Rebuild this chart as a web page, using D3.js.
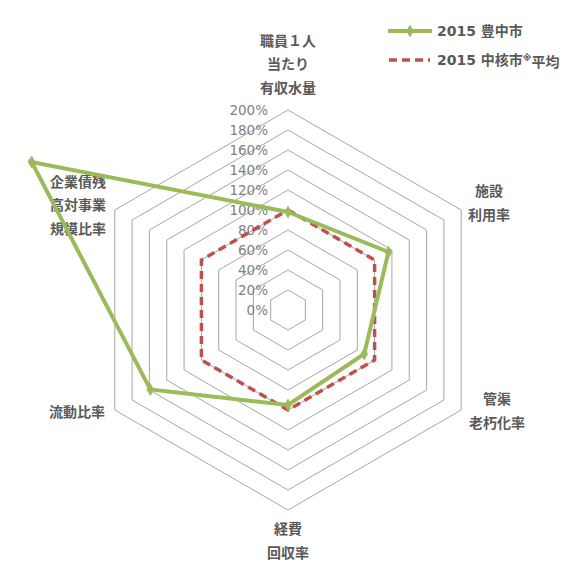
<!DOCTYPE html>
<html>
<head>
<meta charset="utf-8">
<script src="https://cdn.jsdelivr.net/npm/d3@7"></script>
<style>
  html, body { margin: 0; padding: 0; background: #fff; }
  svg { display: block; }
  .tick { font-family: "DejaVu Sans", sans-serif; font-size: 13.5px; fill: #7f7f7f; }
  .axlab { font-family: "Noto Sans CJK JP", sans-serif; font-weight: bold; font-size: 14px; fill: #595959; }
  .leg { font-family: "DejaVu Sans", "Noto Sans CJK JP", sans-serif; font-weight: bold; font-size: 14px; fill: #595959; }
</style>
</head>
<body>
<svg id="chart" width="575" height="584"></svg>
<script>
// Indicator names (each entry is one label, split into lines)
const categories = [
  ["職員１人", "当たり", "有収水量"],
  ["施設", "利用率"],
  ["管渠", "老朽化率"],
  ["経費", "回収率"],
  ["流動比率"],
  ["企業債残", "高対事業", "規模比率"]
];
// Values in percent, clockwise from the top axis
const toyonaka2015 = [98, 116, 88, 95, 159, 296];
const coreCityAvg2015 = [100, 100, 100, 100, 100, 100];
const tickValues = [0, 20, 40, 60, 80, 100, 120, 140, 160, 180, 200];
const seriesNames = ["2015 豊中市", "2015 中核市", "※", "平均"];

const svg = d3.select("#chart");
const cx = 288, cy = 310;
const r = d3.scaleLinear().domain([0, 200]).range([0, 200]);
const angle = i => i * Math.PI * 2 / categories.length;
const pt = (v, i) => [cx + r(v) * Math.sin(angle(i)), cy - r(v) * Math.cos(angle(i))];

// Hexagonal grid rings
const ringLine = d3.line();
svg.append("g").selectAll("path")
  .data(tickValues)
  .join("path")
  .attr("d", t => ringLine(categories.map((c, i) => pt(t, i))) + "Z")
  .attr("fill", "none")
  .attr("stroke", "#a6a6a6")
  .attr("stroke-width", 1);

// Radial tick labels along the top axis
svg.append("g").selectAll("text")
  .data(tickValues)
  .join("text")
  .attr("class", "tick")
  .attr("x", cx - 20)
  .attr("y", t => cy - r(t))
  .attr("dy", "0.36em")
  .attr("text-anchor", "end")
  .text(t => t + "%");

// Axis labels
const labelPos = [
  [0, -246], [201, -107], [209, 101], [0, 231], [-211, 102], [-210, -105]
];
const lh = 23.5;
categories.forEach((lines, i) => {
  const [dx, dy] = labelPos[i];
  const t = svg.append("text").attr("class", "axlab").attr("text-anchor", "middle");
  lines.forEach((s, k) => {
    t.append("tspan")
      .attr("x", cx + dx)
      .attr("y", cy + dy + (k - (lines.length - 1) / 2) * lh)
      .attr("dy", "0.36em")
      .text(s);
  });
});

const green = "#9bbb59", red = "#c0504d";
const poly = d3.line().curve(d3.curveLinearClosed);

// Core-city average (dashed)
svg.append("path")
  .attr("d", poly(coreCityAvg2015.map((v, i) => pt(v, i))))
  .attr("fill", "none")
  .attr("stroke", red)
  .attr("stroke-width", 3.5)
  .attr("stroke-dasharray", "8,5");

// Toyonaka series
svg.append("path")
  .attr("d", poly(toyonaka2015.map((v, i) => pt(v, i))))
  .attr("fill", "none")
  .attr("stroke", green)
  .attr("stroke-width", 4)
  .attr("stroke-linejoin", "miter");

const diamond = d3.symbol().type(d3.symbolDiamond).size(50);
svg.append("g").selectAll("path")
  .data(toyonaka2015)
  .join("path")
  .attr("transform", (v, i) => `translate(${pt(v, i)})`)
  .attr("d", diamond)
  .attr("fill", green);

// Legend
const lg = svg.append("g");
lg.append("line").attr("x1", 388).attr("x2", 432).attr("y1", 31).attr("y2", 31)
  .attr("stroke", green).attr("stroke-width", 4);
lg.append("path").attr("transform", "translate(410,31)").attr("d", diamond).attr("fill", green);
lg.append("text").attr("class", "leg").attr("x", 437).attr("y", 31).attr("dy", "0.36em").text(seriesNames[0]);

lg.append("line").attr("x1", 389).attr("x2", 430).attr("y1", 60).attr("y2", 60)
  .attr("stroke", red).attr("stroke-width", 3.5).attr("stroke-dasharray", "8,5");
const t2 = lg.append("text").attr("class", "leg").attr("x", 437).attr("y", 60).attr("dy", "0.36em");
t2.append("tspan").text(seriesNames[1]);
t2.append("tspan").attr("dy", "-0.45em").attr("font-size", "9px").text(seriesNames[2]);
t2.append("tspan").attr("dy", "0.45em").text(seriesNames[3]);
</script>
</body>
</html>
